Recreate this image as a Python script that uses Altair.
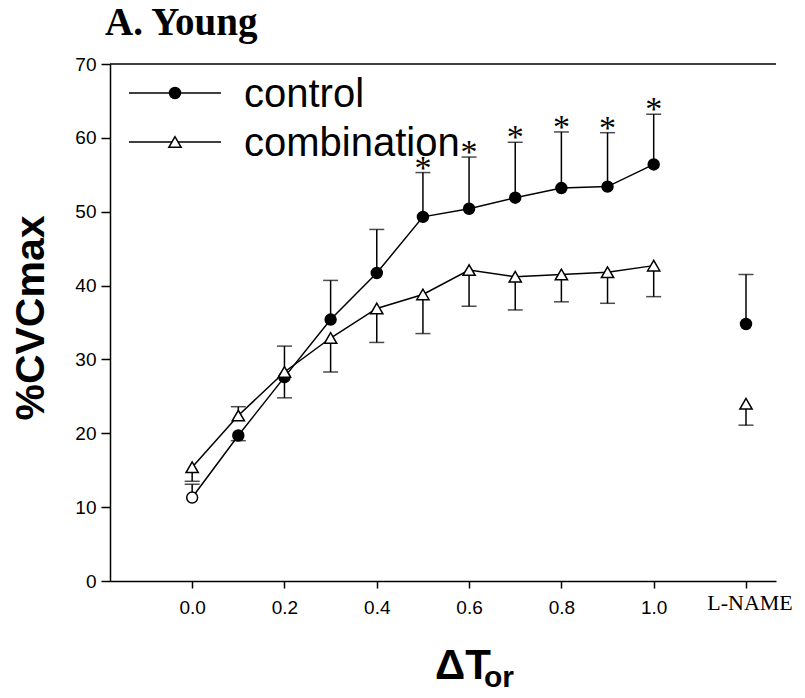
import altair as alt
import pandas as pd

# ---- data ----
x_vals = [0.0, 0.1, 0.2, 0.3, 0.4, 0.5, 0.6, 0.7, 0.8, 0.9, 1.0]
lname_x = 1.2
control = [11.3, 19.7, 27.6, 35.4, 41.7, 49.3, 50.4, 51.9, 53.2, 53.4, 56.4]
control_err_end = [13.1, 19.0, 24.8, 40.7, 47.6, 55.3, 57.4, 59.4, 60.8, 60.7, 63.2]
combination = [15.4, 22.4, 28.3, 32.9, 36.9, 38.8, 42.1, 41.2, 41.5, 41.8, 42.7]
combination_err_end = [13.5, 23.6, 31.8, 28.3, 32.3, 33.5, 37.2, 36.7, 37.8, 37.6, 38.5]
lname_control = 34.8
lname_control_err_end = 41.5
lname_combination = 24.0
lname_combination_err_end = 21.1
star_x = [0.5, 0.6, 0.7, 0.8, 0.9, 1.0]
x_ticks = [0.0, 0.2, 0.4, 0.6, 0.8, 1.0, 1.2]
y_ticks = [0, 10, 20, 30, 40, 50, 60, 70]

# ---- tables ----
line_df = pd.DataFrame(
    {"x": x_vals * 2,
     "y": control + combination,
     "series": ["control"] * len(x_vals) + ["combination"] * len(x_vals)}
)
ctrl_pts = pd.DataFrame(
    {"x": x_vals + [lname_x],
     "y": control + [lname_control],
     "end": control_err_end + [lname_control_err_end],
     "fill": ["white"] + ["black"] * (len(x_vals) - 1) + ["black"]}
)
comb_pts = pd.DataFrame(
    {"x": x_vals + [lname_x],
     "y": combination + [lname_combination],
     "end": combination_err_end + [lname_combination_err_end]}
)
err_df = pd.concat([ctrl_pts[["x", "y", "end"]], comb_pts[["x", "y", "end"]]], ignore_index=True)
star_df = ctrl_pts[ctrl_pts["x"].isin(star_x)][["x", "end"]]

W, H = 666, 517
LABEL_FONT = "Liberation Sans"
xscale = alt.Scale(domain=[-0.178, 1.265], nice=False, zero=False)
yscale = alt.Scale(domain=[0, 70], nice=False)
xaxis = alt.Axis(values=x_ticks, title=None, tickSize=7, labelPadding=10,
                 labelFont=LABEL_FONT, labelFontSize=19, labelColor="black",
                 domainColor="black", domainWidth=1.5, tickColor="black", tickWidth=1.5,
                 grid=False,
                 labelExpr="datum.value > 1.1 ? '' : format(datum.value, '.1f')")
yaxis = alt.Axis(values=y_ticks, title=None, tickSize=9, labelPadding=5,
                 labelFont=LABEL_FONT, labelFontSize=19, labelColor="black",
                 domainColor="black", domainWidth=1.5, tickColor="black", tickWidth=1.5,
                 grid=False)

def X(field="x"):
    return alt.X(f"{field}:Q", scale=xscale, axis=xaxis)

def Y(field="y"):
    return alt.Y(f"{field}:Q", scale=yscale, axis=yaxis)

one = pd.DataFrame({"a": [0]})

lines = alt.Chart(line_df).mark_line(color="black", strokeWidth=1.5).encode(
    x=X(), y=Y(), detail="series:N")
err_rules = alt.Chart(err_df).mark_rule(color="black", strokeWidth=1.5).encode(
    x=X(), y=Y(), y2="end:Q")
caps = alt.Chart(err_df).mark_tick(orient="horizontal", size=15, thickness=1.5, color="black").encode(
    x=X(), y=Y("end"))
circles = alt.Chart(ctrl_pts).mark_point(shape="circle", size=120, filled=True, stroke="black",
                                          strokeWidth=1.5, opacity=1).encode(
    x=X(), y=Y(), fill=alt.Fill("fill:N", scale=None))
triangles = alt.Chart(comb_pts).mark_point(shape="triangle-up", size=150, filled=True, fill="white",
                                            stroke="black", strokeWidth=1.5, opacity=1).encode(
    x=X(), y=Y())
stars = alt.Chart(star_df).mark_text(text="*", font="Liberation Serif", fontSize=34,
                                     baseline="alphabetic", color="black", dy=6).encode(
    x=X(), y=Y("end"))
top_rule = alt.Chart(one).mark_rule(color="black", strokeWidth=1.5).encode(
    x=alt.value(0), x2=alt.value(W), y=alt.value(0))

# legend
leg = []
for ypix, label, shape, fill in [(29, "control", "circle", "black"),
                                 (78, "combination", "triangle-up", "white")]:
    leg.append(alt.Chart(one).mark_rule(color="black", strokeWidth=1.5).encode(
        x=alt.value(19), x2=alt.value(111), y=alt.value(ypix)))
    leg.append(alt.Chart(one).mark_point(shape=shape, size=120 if shape == "circle" else 150,
                                         filled=True, fill=fill, stroke="black", strokeWidth=1.5,
                                         opacity=1).encode(
        x=alt.value(65), y=alt.value(ypix)))
    leg.append(alt.Chart(one).mark_text(text=label, font="Liberation Sans", fontSize=40,
                                        align="left", baseline="alphabetic", color="black").encode(
        x=alt.value(134), y=alt.value(ypix + 14)))

# texts outside plot
lname_lbl = alt.Chart(pd.DataFrame({"x": [lname_x]})).mark_text(
    text="L-NAME", font="Liberation Serif", fontSize=22, align="center", dx=4,
    baseline="alphabetic", color="black").encode(x=X(), y=alt.value(H + 29))
title = alt.Chart(one).mark_text(text="A. Young", font="Liberation Serif", fontSize=39,
                                 fontWeight="bold", align="left", baseline="alphabetic",
                                 color="black").encode(x=alt.value(-5), y=alt.value(-29))
ytitle = alt.Chart(one).mark_text(text="%CVCmax", font="Liberation Sans", fontSize=41,
                                  fontWeight="bold", angle=270, align="center",
                                  baseline="alphabetic", color="black").encode(
    x=alt.value(-66), y=alt.value(254))
xtitle = alt.Chart(one).mark_text(text="ΔT", font="Liberation Sans", fontSize=42,
                                  fontWeight="bold", align="left", baseline="alphabetic",
                                  color="black").encode(x=alt.value(325), y=alt.value(H + 98))
xsub = alt.Chart(one).mark_text(text="or", font="Liberation Sans", fontSize=30,
                                fontWeight="bold", align="left", baseline="alphabetic",
                                color="black").encode(x=alt.value(374), y=alt.value(H + 106))

chart = alt.layer(
    top_rule, lines, err_rules, caps, circles, triangles, stars, *leg,
    lname_lbl, title, ytitle, xtitle, xsub
).properties(
    width=W, height=H,
    autosize=alt.AutoSizeParams(type="none"),
    padding={"left": 102, "top": 56, "right": 20, "bottom": 109},
).configure_view(stroke=None)

chart.save("out.html", embed_options={"renderer": "svg", "actions": False})
